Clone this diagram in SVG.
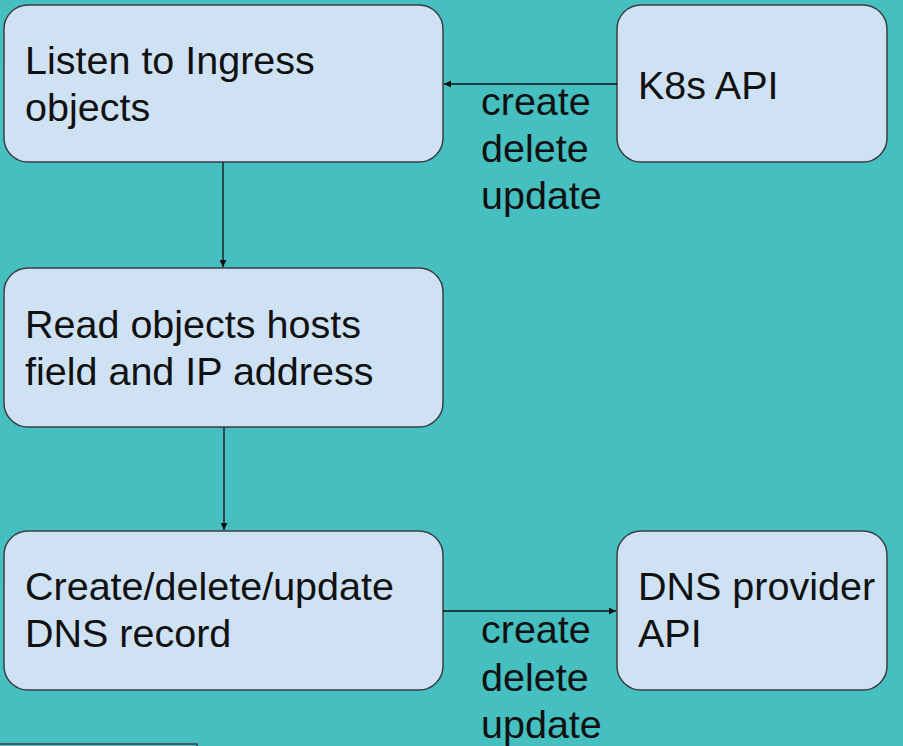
<svg xmlns="http://www.w3.org/2000/svg" width="903" height="746" viewBox="0 0 903 746">
  <defs>
    <style>
      .box { fill: #cfe2f3; stroke: #3a3f44; stroke-width: 1.5; }
      .txt { font-family: "Liberation Sans", Arial, sans-serif; font-size: 39.5px; fill: #111; }
      .lbl { font-family: "Liberation Sans", Arial, sans-serif; font-size: 39.5px; fill: #111; }
      .edge { stroke: #111; stroke-width: 1.3; fill: none; }
    </style>
    <marker id="arrow" viewBox="0 0 10 10" refX="10" refY="5" markerWidth="7" markerHeight="7" markerUnits="userSpaceOnUse" orient="auto">
      <path d="M0,0 L10,5 L0,10 z" fill="#111"/>
    </marker>
  </defs>

  <rect x="0" y="0" width="903" height="746" fill="#45bfbf"/>

  <g id="listen">
    <rect class="box" x="4" y="5" width="439" height="157" rx="24" ry="24"/>
    <text class="txt" x="25" y="74">Listen to Ingress</text>
    <text class="txt" x="25" y="121">objects</text>
  </g>

  <g id="k8s-api">
    <rect class="box" x="617" y="5" width="270" height="157" rx="24" ry="24"/>
    <text class="txt" x="638" y="99">K8s API</text>
  </g>

  <g id="read">
    <rect class="box" x="4" y="268" width="439" height="159" rx="24" ry="24"/>
    <text class="txt" x="25" y="338">Read objects hosts</text>
    <text class="txt" x="25" y="385">field and IP address</text>
  </g>

  <g id="update">
    <rect class="box" x="4" y="531" width="439" height="159" rx="24" ry="24"/>
    <text class="txt" x="25" y="600">Create/delete/update</text>
    <text class="txt" x="25" y="647">DNS record</text>
  </g>

  <g id="dns-api">
    <rect class="box" x="617" y="531" width="270" height="159" rx="24" ry="24"/>
    <text class="txt" x="638" y="600">DNS provider</text>
    <text class="txt" x="638" y="647">API</text>
  </g>

  <g id="partial-box">
    <path d="M0,744 H197 V760" fill="none" stroke="#3a3f44" stroke-width="1.5"/>
  </g>

  <g id="connectors">
    <line class="edge" x1="617" y1="84" x2="444" y2="84" marker-end="url(#arrow)"/>
    <line class="edge" x1="223" y1="162" x2="223" y2="267" marker-end="url(#arrow)"/>
    <line class="edge" x1="224" y1="427" x2="224" y2="530" marker-end="url(#arrow)"/>
    <line class="edge" x1="443" y1="611" x2="616" y2="611" marker-end="url(#arrow)"/>
    <text class="lbl" x="481" y="115">create</text>
    <text class="lbl" x="481" y="162">delete</text>
    <text class="lbl" x="481" y="209">update</text>
    <text class="lbl" x="481" y="643">create</text>
    <text class="lbl" x="481" y="691">delete</text>
    <text class="lbl" x="481" y="738">update</text>
  </g>
</svg>
